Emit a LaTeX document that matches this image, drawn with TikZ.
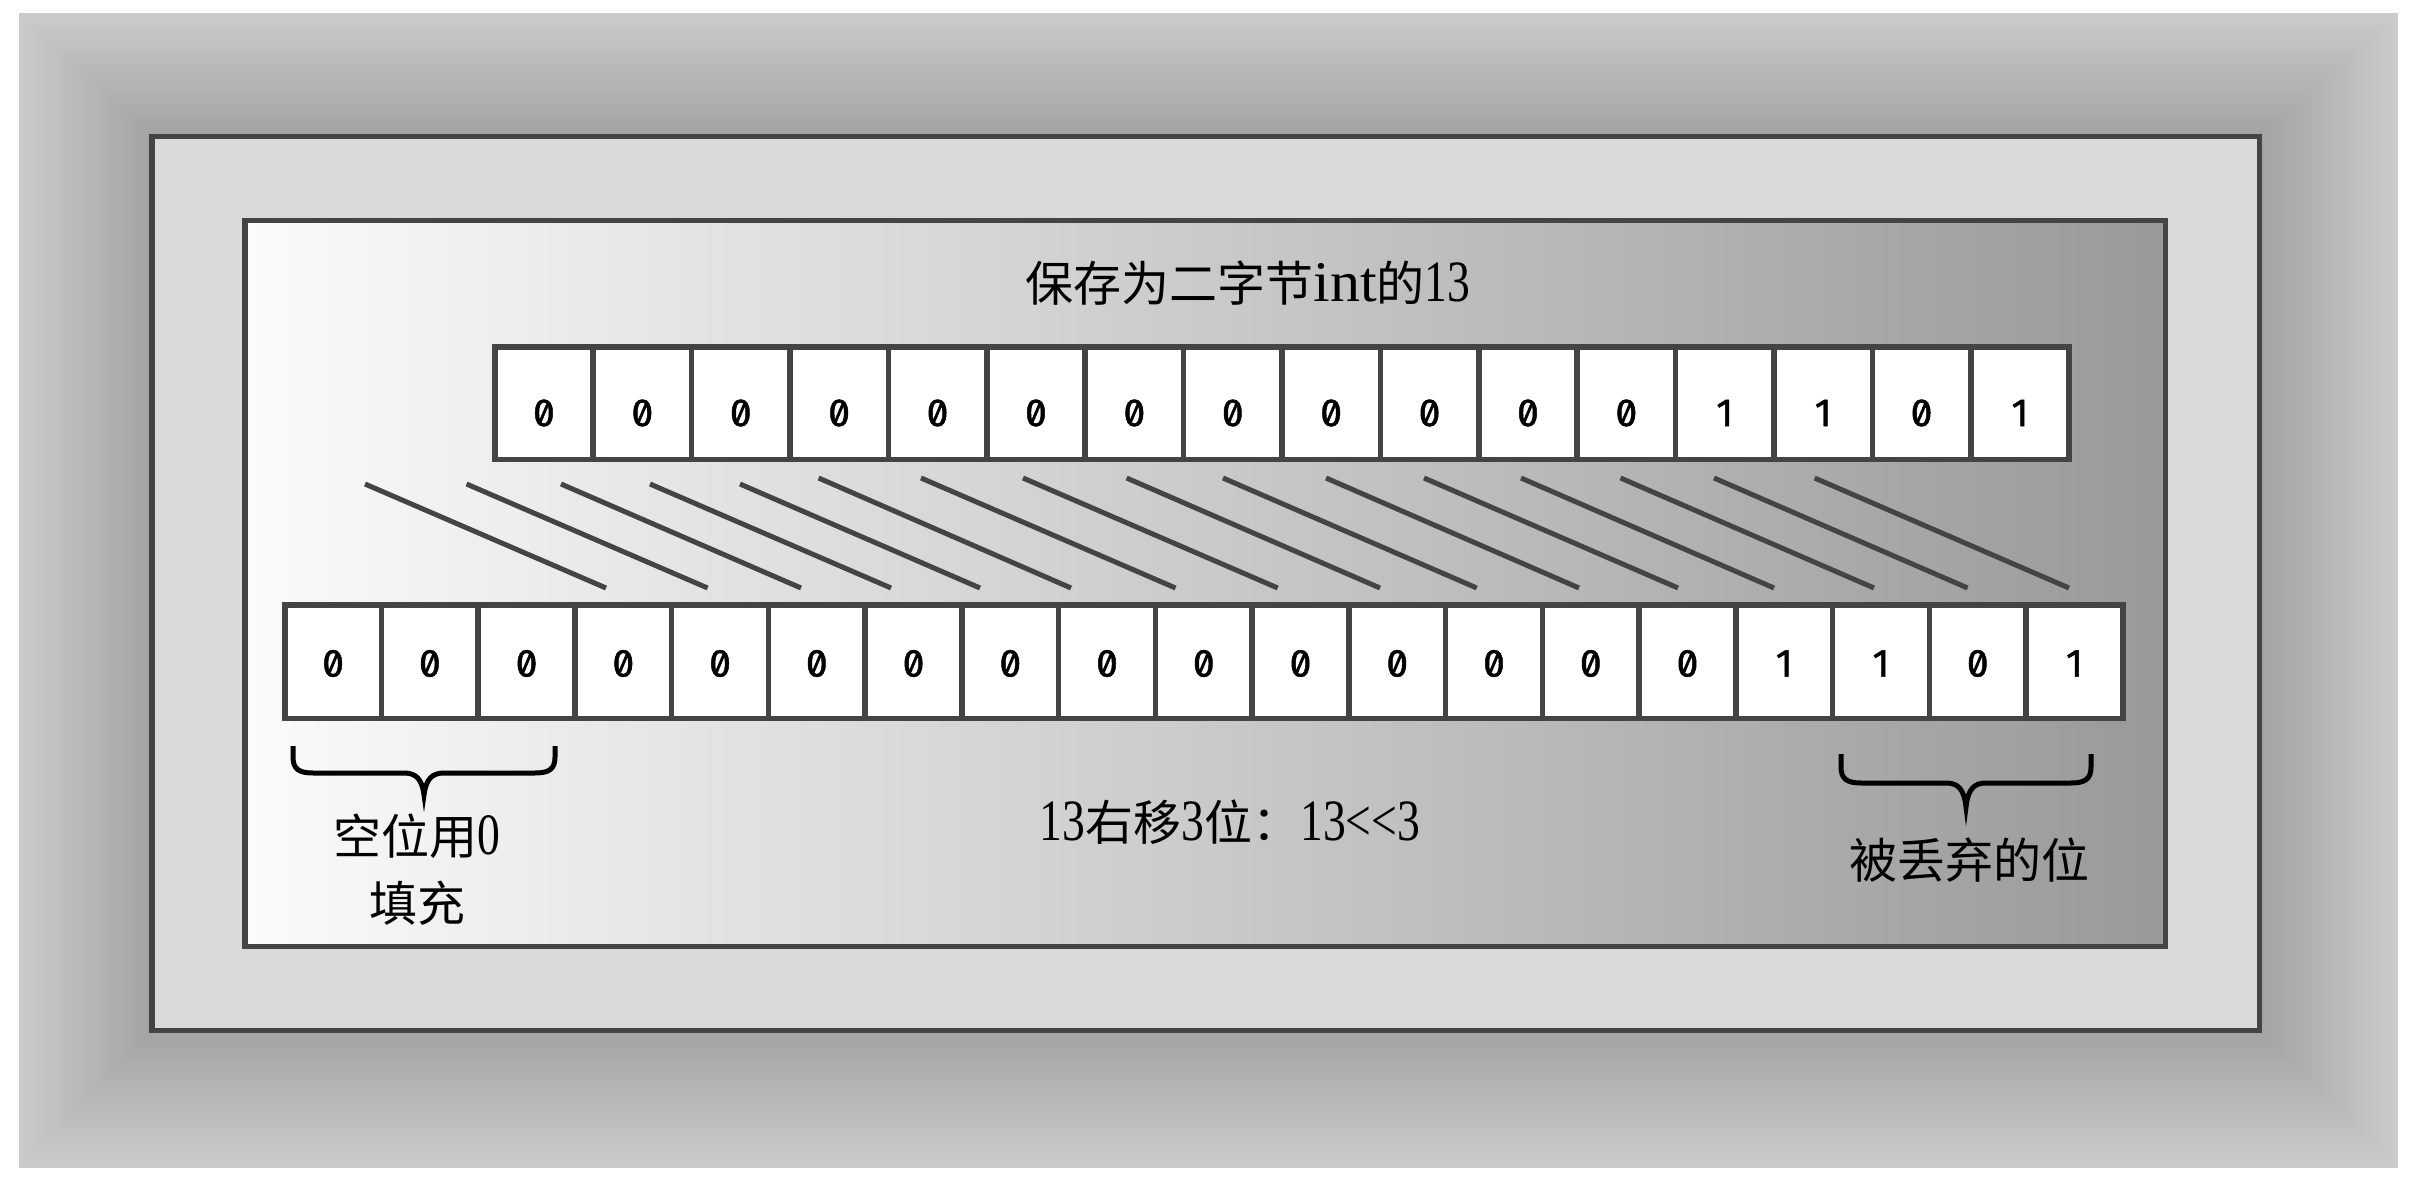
\documentclass[tikz,border=0pt]{standalone}
\usepackage{fontspec}
\usepackage{graphicx}
\setmainfont{Liberation Serif}
\newfontfamily\cjk{Noto Sans CJK SC}
\newfontfamily\digitfont[RawFeature=+zero, FakeBold=1.2]{Fira Sans}
\usetikzlibrary{calc}
\definecolor{edgec}{HTML}{444444}
\definecolor{gOut}{HTML}{CBCBCB}
\definecolor{gIn}{HTML}{A3A3A3}
\definecolor{frameFill}{HTML}{D9D9D9}
\definecolor{shadeR}{HTML}{999999}
\definecolor{shadeL}{HTML}{FBFBFB}
\newcommand\lat[1]{{\rmfamily\scalebox{0.95}[1.22]{#1}}}
\newcommand\latw[1]{{\rmfamily\scalebox{1.25}[1.2]{#1}}}
\newcommand\drawbrace[5]{%
  \pgfmathsetmacro\bxm{(#1+#2)/2}%
  \draw[bracepath] (#1,#3) -- (#1,{#4-16})
    .. controls (#1,{#4-4}) and ({#1+6},#4) .. ({#1+20},#4)
    -- ({\bxm-20},#4)
    .. controls ({\bxm-8},#4) and ({\bxm-2},{#4+6}) .. (\bxm,#5)
    .. controls ({\bxm+2},{#4+6}) and ({\bxm+8},#4) .. ({\bxm+20},#4)
    -- ({#2-20},#4)
    .. controls ({#2-6},#4) and (#2,{#4-4}) .. (#2,{#4-16})
    -- (#2,#3);}
\tikzset{
  cell/.style={draw=edgec, fill=white, line width=5.5pt, inner sep=0pt},
  bit/.style={font=\digitfont\fontsize{39}{42}\selectfont, inner sep=0pt},
  lbl/.style={font=\cjk\fontsize{48}{67}\selectfont, inner sep=0pt, align=center},
  shiftline/.style={draw=edgec, line width=5pt},
  bracepath/.style={draw=black, line width=5pt},
  boxline/.style={draw=edgec, line width=5.5pt}
}
\begin{document}
\begin{tikzpicture}[x=1pt,y=-1pt]
\useasboundingbox (0,0) rectangle (2412,1182);
\fill[white] (0,0) rectangle (2412,1182);
% graded surround
\foreach \k in {0,...,40}{
  \pgfmathsetmacro\bgT{\k/40}
  \pgfmathsetmacro\bgP{100*\bgT}
  \fill[gIn!\bgP!gOut] ({19+130*\bgT},{13+121*\bgT}) rectangle ({2398-136*\bgT},{1168-135*\bgT});
}
% middle frame
\filldraw[boxline, fill=frameFill] (151.75,136.75) rectangle (2259.25,1030.25);
% inner panel
\shadedraw[boxline, left color=shadeL, right color=shadeR] (244.75,220.75) rectangle (2165.25,946.25);

% top row (16 bits)
\foreach \i in {0,...,15}
  \node[cell, minimum width=98.4pt, minimum height=112.5pt] (t\i) at ({494.75+98.4*(\i+0.5)},403) {};
\foreach \b [count=\c from 0] in {0,0,0,0,0,0,0,0,0,0,0,0,1,1,0,1}
  \node[bit] (dt\c) at ($(t\c.center)+(0,10)$) {\b};

% bottom row (19 bits)
\foreach \i in {0,...,18}
  \node[cell, minimum width=96.74pt, minimum height=113.5pt] (b\i) at ({284.75+96.74*(\i+0.5)},661.5) {};
\foreach \b [count=\c from 0] in {0,0,0,0,0,0,0,0,0,0,0,0,0,0,0,1,1,0,1}
  \node[bit] (db\c) at ($(b\c.center)+(0,2)$) {\b};

% shift strokes
\foreach \sx/\sy/\ex in {365/484/606, 466.5/484/707.6, 561/484/801, 650/484/891, 740/484/980,
  818.6/478/1071, 921/478/1175.5, 1023/478/1277.7, 1126.6/478/1380, 1223/478/1476.7,
  1326/478/1579, 1424/478/1678, 1521/478/1774, 1620.5/478/1874, 1714/478/1967.6, 1814.6/478/2069}
  \draw[shiftline] (\sx,\sy) -- (\ex,588);

% braces
\drawbrace{293}{555}{746}{773}{795}
\drawbrace{1841}{2091}{754}{783}{807}

% labels
\node[lbl] (title) at (1248,283) {保存为二字节\latw{int}的\lat{13}};
\node[lbl] (shiftlbl) at (1230,822) {\lat{13}右移\lat{3}位：\lat{13<{}<3}};
\node[lbl] (padlbl) at (417,869.5) {空位用\lat{0}\\填充};
\node[lbl] (droplbl) at (1969,860.5) {被丢弃的位};
\end{tikzpicture}
\end{document}
